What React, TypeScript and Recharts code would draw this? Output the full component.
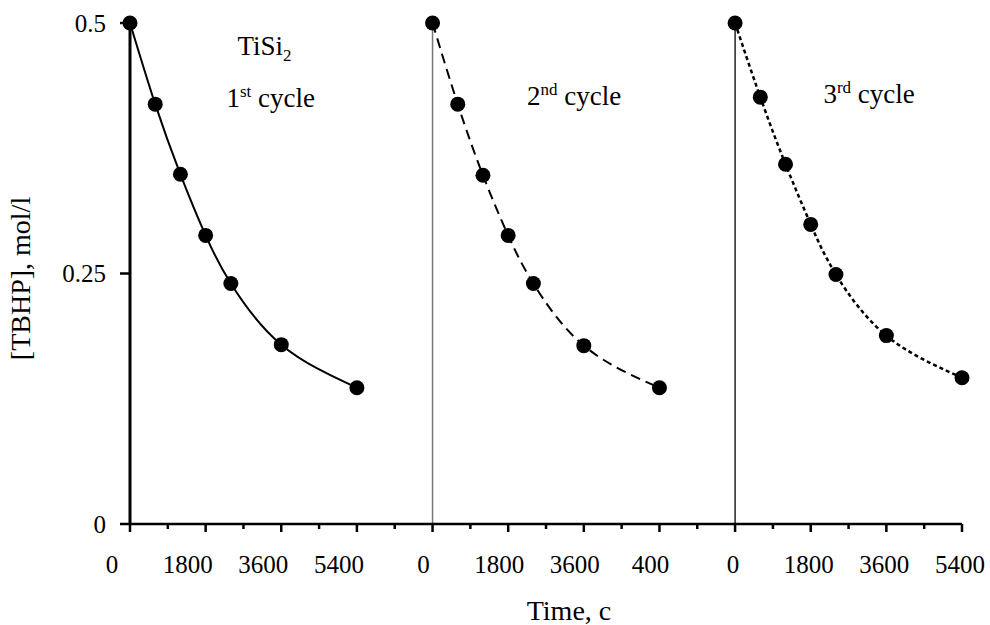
import React from 'react';
import {
  LineChart,
  Line,
  XAxis,
  YAxis,
  ReferenceLine,
  ReferenceDot,
  Label,
} from 'recharts';

// time points (s) sampled in each cycle
const cycleTimes = [0, 600, 1200, 1800, 2400, 3600, 5400];

// [TBHP], mol/l
const cycle1 = [0.5, 0.419, 0.349, 0.288, 0.24, 0.179, 0.136];
const cycle2 = [0.5, 0.419, 0.348, 0.288, 0.24, 0.178, 0.136];
const cycle3 = [0.5, 0.426, 0.359, 0.299, 0.249, 0.188, 0.146];

// the three cycles share one time axis, each panel starts where the previous ends
const panelStart = [0, 7200, 14400];
const panelLength = [7200, 7200, 5400];
const tickStep = 900;
const labelledTicks = [0, 1800, 3600, 5400];
const tickLabels = [
  ['0', '1800', '3600', '5400'],
  ['0', '1800', '3600', '400'],
  ['0', '1800', '3600', '5400'],
];
const yTicks = [0, 0.25, 0.5];

const notes = [
  { t: 3200, c: 0.468, main: 'TiSi', sub: '2', sup: '', rest: '' },
  { t: 3350, c: 0.416, main: '1', sub: '', sup: 'st', rest: ' cycle' },
  { t: 10570, c: 0.418, main: '2', sub: '', sup: 'nd', rest: ' cycle' },
  { t: 17590, c: 0.42, main: '3', sub: '', sup: 'rd', rest: ' cycle' },
];

const FONT = '"Liberation Serif", "Times New Roman", serif';
const xMax = panelStart[2] + panelLength[2];

const xTicks: number[] = [];
for (let v = 0; v <= xMax; v += tickStep) xTicks.push(v);

const toSeries = (values: number[], panel: number) =>
  cycleTimes.map((t, i) => ({ t: t + panelStart[panel], c: values[i] }));

const series1 = toSeries(cycle1, 0);
const series2 = toSeries(cycle2, 1);
const series3 = toSeries(cycle3, 2);

const labelShift = [-18, -9, -2];
const textStyle = { fontFamily: FONT };

const XTick = ({ x, y, payload }: any) => {
  const v = payload.value;
  let p = 0;
  panelStart.forEach((s, i) => {
    if (v >= s) p = i;
  });
  const idx = labelledTicks.indexOf(v - panelStart[p]);
  const major = idx >= 0;
  return (
    <g>
      <line x1={x} y1={y} x2={x} y2={y + (major ? 8 : 5)} stroke="#000" strokeWidth={2.5} />
      {major && (
        <text x={x + labelShift[p]} y={y + 49} textAnchor="middle" fontSize={25} style={textStyle} fill="#000">
          {tickLabels[p][idx]}
        </text>
      )}
    </g>
  );
};

const YTick = ({ x, y, payload }: any) => (
  <g>
    <line x1={x - 10} y1={y} x2={x} y2={y} stroke="#000" strokeWidth={2.5} />
    <text x={x - 24} y={y} dy="0.35em" textAnchor="end" fontSize={25} style={textStyle} fill="#000">
      {String(payload.value)}
    </text>
  </g>
);

const NoteShape = (note: (typeof notes)[number]) => (props: any) => (
  <text x={props.cx} y={props.cy} textAnchor="middle" fontSize={27} style={textStyle} fill="#000">
    <tspan>{note.main}</tspan>
    {note.sub && (
      <tspan fontSize={17} dy={6}>
        {note.sub}
      </tspan>
    )}
    {note.sup && (
      <tspan fontSize={17} dy={-10}>
        {note.sup}
      </tspan>
    )}
    {note.rest && <tspan dy={10}>{note.rest}</tspan>}
  </text>
);

export default function App() {
  return (
    <div style={{ position: 'absolute', left: 0, top: 0, width: 990, height: 625, background: '#fff' }}>
      <LineChart width={990} height={625} margin={{ top: 23, right: 28, bottom: 0, left: 0 }} style={{ fontFamily: FONT }}>
        <XAxis
          dataKey="t"
          type="number"
          domain={[0, xMax]}
          ticks={xTicks}
          interval={0}
          tickSize={0}
          tickMargin={0}
          tickLine={false}
          tick={<XTick />}
          height={101}
          axisLine={{ stroke: '#000', strokeWidth: 2.5 }}
          label={
            <Label
              content={({ viewBox }: any) => (
                <text
                  x={viewBox.x + viewBox.width / 2 + 23}
                  y={viewBox.y + 96}
                  textAnchor="middle"
                  fontSize={28}
                  style={textStyle}
                  fill="#000"
                >
                  Time, c
                </text>
              )}
            />
          }
        />
        <YAxis
          type="number"
          domain={[0, 0.5]}
          ticks={yTicks}
          interval={0}
          tickSize={0}
          tickMargin={0}
          tickLine={false}
          tick={<YTick />}
          width={130}
          axisLine={{ stroke: '#000', strokeWidth: 3 }}
          label={
            <Label
              content={({ viewBox }: any) => {
                const cx = viewBox.x + 20;
                const cy = viewBox.y + viewBox.height / 2 + 5;
                return (
                  <text
                    x={cx}
                    y={cy}
                    transform={`rotate(-90, ${cx}, ${cy})`}
                    textAnchor="middle"
                    dominantBaseline="central"
                    fontSize={28}
                    style={textStyle}
                    fill="#000"
                  >
                    [TBHP], mol/l
                  </text>
                );
              }}
            />
          }
        />
        <ReferenceLine x={panelStart[1]} stroke="#777" strokeWidth={1.5} />
        <ReferenceLine x={panelStart[2]} stroke="#000" strokeWidth={1.3} />

        <Line
          data={series1}
          dataKey="c"
          type="natural"
          stroke="#000"
          strokeWidth={2}
          dot={{ r: 7.5, fill: '#000', strokeWidth: 0 }}
          activeDot={false}
          isAnimationActive={false}
        />
        <Line
          data={series2}
          dataKey="c"
          type="natural"
          stroke="#000"
          strokeWidth={2}
          strokeDasharray="10 6"
          dot={{ r: 7.5, fill: '#000', strokeWidth: 0 }}
          activeDot={false}
          isAnimationActive={false}
        />
        <Line
          data={series3}
          dataKey="c"
          type="natural"
          stroke="#000"
          strokeWidth={2.5}
          strokeDasharray="4 3"
          dot={{ r: 7.5, fill: '#000', strokeWidth: 0 }}
          activeDot={false}
          isAnimationActive={false}
        />

        {notes.map((n, i) => (
          <ReferenceDot key={i} x={n.t} y={n.c} r={0} shape={NoteShape(n)} />
        ))}
      </LineChart>
    </div>
  );
}
